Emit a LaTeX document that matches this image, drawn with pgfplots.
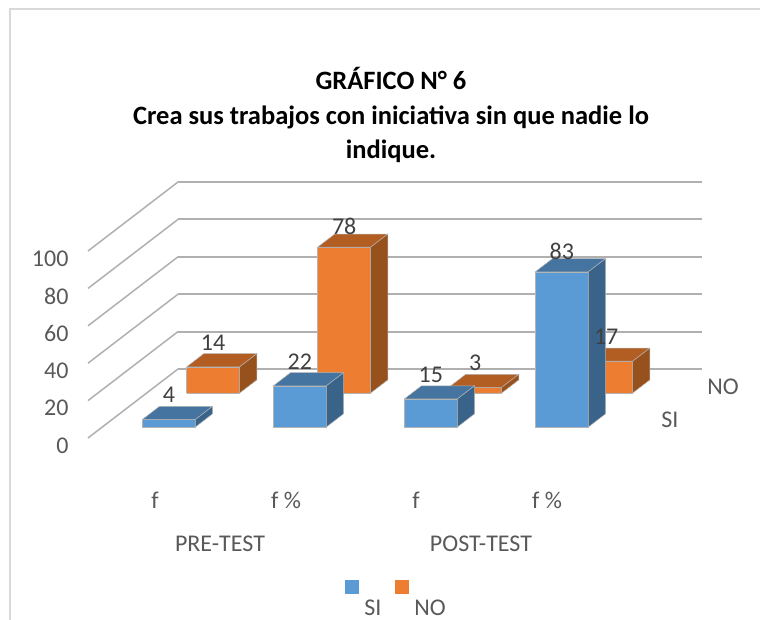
\documentclass[border=0pt]{standalone}
\usepackage{fontspec}
\setmainfont{Carlito}
\usepackage{pgfplots}
\usepackage{pgfplotstable}
\pgfplotsset{compat=1.18}

\definecolor{siFront}{HTML}{5B9BD5}
\definecolor{siTop}{HTML}{44749F}
\definecolor{siSide}{HTML}{3A6389}
\definecolor{noFront}{HTML}{ED7D31}
\definecolor{noTop}{HTML}{B25E22}
\definecolor{noSide}{HTML}{97511C}
\definecolor{wall}{HTML}{B0B0B0}
\definecolor{tick}{HTML}{595959}
\definecolor{edge}{HTML}{B4B4B4}

\pgfplotstableread{
cat val
0   4
1   22
2   15
3   83
}\siData
\pgfplotstableread{
cat val
0   14
1   78
2   3
3   17
}\noData

% one 3D bar per table row: front, top and side face
\newcommand{\cuboids}[5]{%
  \pgfplotsforeachungrouped \i in {0,...,3}{%
    \pgfplotstablegetelem{\i}{cat}\of#1\let\c\pgfplotsretval
    \pgfplotstablegetelem{\i}{val}\of#1\let\v\pgfplotsretval
    \pgfmathsetmacro\xa{\c+0.305}\pgfmathsetmacro\xb{\c+0.71}%
    \pgfmathsetmacro\ya{#2}\pgfmathsetmacro\yb{#2+0.19}%
    \addplot3[fill=#3,draw=edge,line width=0.5pt] coordinates
      {(\xa,\ya,0) (\xb,\ya,0) (\xb,\ya,\v) (\xa,\ya,\v) (\xa,\ya,0)};
    \addplot3[fill=#4,draw=edge,line width=0.5pt] coordinates
      {(\xa,\ya,\v) (\xb,\ya,\v) (\xb,\yb,\v) (\xa,\yb,\v) (\xa,\ya,\v)};
    \addplot3[fill=#5,draw=edge,line width=0.5pt] coordinates
      {(\xb,\ya,0) (\xb,\yb,0) (\xb,\yb,\v) (\xb,\ya,\v) (\xb,\ya,0)};
  }%
}

\begin{document}
\begin{tikzpicture}[x=1pt,y=1pt,font=\fontsize{24}{28}\selectfont]
\path[use as bounding box] (0,0) rectangle (760,-620);
\begin{scope}
\clip (0,0) rectangle (760,-620);

\draw[color=black!15,line width=2pt] (10,-620) -- (10,-9.5) -- (760,-9.5);

\node[font=\fontsize{26.5}{34.5}\selectfont\bfseries,align=center,anchor=center]
  at (391,-115) {GRÁFICO N° 6\\Crea sus trabajos con iniciativa sin que nadie lo\\indique.};

\begin{axis}[
  at={(88pt,-438pt)},anchor=origin,
  x={(131pt,0pt)},y={(90pt,69pt)},z={(0pt,1.87pt)},
  xmin=0,xmax=4,ymin=0,ymax=1,zmin=0,zmax=100,
  hide axis,clip=false,
]
\pgfplotsinvokeforeach{0,20,40,60,80,100}{
  \addplot3[wall,line width=1.5pt] coordinates {(0,0,#1) (0,1,#1)};
  \addplot3[wall,line width=2pt] coordinates {(0,1,#1) (4,1,#1)};
  \node[anchor=east,text=tick,xshift=-16pt,yshift=-7.5pt,font=\fontsize{24}{28}\selectfont] at (axis cs:0,0,#1) {#1};
}
\cuboids{\noData}{0.652}{noFront}{noTop}{noSide}
\cuboids{\siData}{0.16}{siFront}{siTop}{siSide}
% data labels last, they sit over the bars
\addplot3[only marks,mark=none,point meta={\thisrow{val}},z filter/.expression={z*0.97},nodes near coords,
  nodes near coords style={anchor=center,yshift=25pt,text=black!75,font=\fontsize{24}{28}\selectfont,/pgf/number format/assume math mode=true}]
  table[x expr=\thisrow{cat}+0.5075,y expr=0.652,z=val] {\noData};
\addplot3[only marks,mark=none,point meta={\thisrow{val}},z filter/.expression={z*0.97},nodes near coords,
  nodes near coords style={anchor=center,yshift=25pt,text=black!75,font=\fontsize{24}{28}\selectfont,/pgf/number format/assume math mode=true}]
  table[x expr=\thisrow{cat}+0.5075,y expr=0.16,z=val] {\siData};
\end{axis}

\begin{scope}[every node/.style={text=tick,anchor=center}]
\node at (155,-500) {f};
\node at (286,-500) {f \%};
\node at (416,-500) {f};
\node at (547,-500) {f \%};
\node at (220,-544) {PRE-TEST};
\node at (481,-544) {POST-TEST};
\node at (723,-387) {NO};
\node at (670,-420) {SI};
\node[inner sep=0pt] at (373,-608) {SI};
\node[inner sep=0pt] at (430,-608) {NO};
\end{scope}
\fill[siFront] (345,-580) rectangle (359,-594);
\fill[noFront] (395,-580) rectangle (409,-594);
\end{scope}
\end{tikzpicture}
\end{document}
